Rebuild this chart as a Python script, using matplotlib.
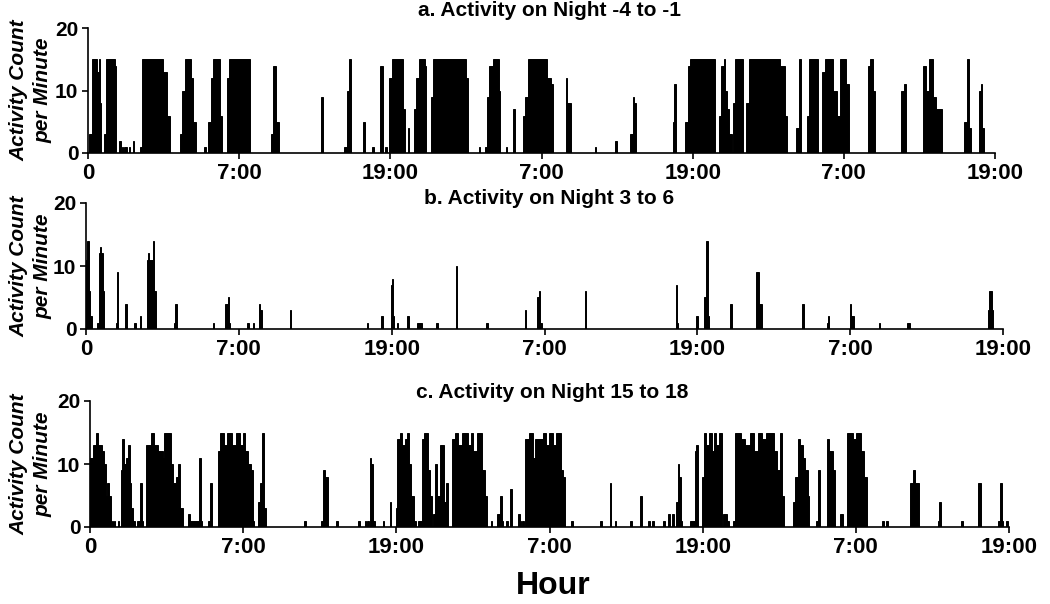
import matplotlib
matplotlib.use("Agg")
import matplotlib.pyplot as plt

plt.rcParams['font.family'] = ['Liberation Sans', 'DejaVu Sans']

# activity bouts: (start hour, end hour, count per minute), hour 0 = 19:00
night_a_bouts = [
    (0.10, 0.32, 3), (0.32, 0.71, 15), (0.71, 0.84, 13), (0.84, 0.98, 15), (0.98, 1.06, 8),
    (1.24, 1.42, 3), (1.42, 2.16, 15), (2.16, 2.24, 14), (2.50, 2.64, 2), (2.69, 2.77, 1),
    (2.87, 2.98, 1), (3.00, 3.09, 1), (3.27, 3.35, 1), (3.56, 3.69, 2), (4.09, 4.32, 1),
    (4.32, 5.99, 15), (5.99, 6.25, 13), (6.25, 6.51, 6), (7.30, 7.49, 3), (7.49, 7.70, 10),
    (7.70, 8.17, 15), (8.17, 8.36, 12), (8.36, 8.54, 5), (9.20, 9.33, 1), (9.55, 9.76, 5),
    (9.76, 9.94, 12), (9.94, 10.47, 15), (10.47, 10.60, 6), (11.00, 11.18, 12), (11.18, 12.84, 15),
    (14.56, 14.69, 3), (14.69, 14.95, 14), (14.95, 15.14, 5), (18.46, 18.62, 9), (20.36, 20.57, 1),
    (20.57, 20.75, 10), (20.75, 20.91, 15), (21.81, 21.99, 5), (22.52, 22.68, 1), (23.18, 23.39, 14),
    (23.60, 23.76, 1), (23.86, 24.16, 12), (24.16, 25.00, 15), (25.00, 25.14, 7), (25.40, 25.50, 4),
    (25.85, 26.06, 7), (26.06, 26.27, 12), (26.27, 26.72, 15), (26.72, 26.80, 14), (27.25, 27.38, 9),
    (27.38, 30.00, 15), (30.00, 30.15, 12), (31.00, 31.10, 1), (31.52, 31.65, 1), (31.65, 31.86, 9),
    (31.86, 32.12, 14), (32.12, 32.59, 15), (32.59, 32.70, 10), (33.15, 33.25, 1), (33.76, 33.92, 7),
    (34.50, 34.71, 6), (34.71, 34.89, 9), (34.89, 36.47, 15), (36.47, 36.74, 12), (36.74, 36.92, 11),
    (37.92, 38.05, 12), (38.05, 38.32, 8), (40.24, 40.35, 1), (41.83, 41.96, 2), (43.01, 43.28, 3),
    (43.28, 43.38, 9), (43.38, 43.52, 8), (46.40, 46.50, 5), (46.50, 46.70, 11), (47.42, 47.60, 5),
    (47.60, 47.81, 14), (47.81, 49.74, 15), (50.08, 50.21, 6), (50.21, 50.47, 14), (50.47, 50.60, 15),
    (50.60, 50.74, 10), (50.74, 50.87, 7), (50.87, 51.13, 3), (51.21, 51.39, 8), (51.39, 52.00, 15),
    (52.26, 52.45, 8), (52.45, 54.95, 15), (54.95, 55.35, 14), (55.35, 55.48, 6), (56.21, 56.47, 4),
    (56.47, 56.58, 15), (57.10, 57.26, 6), (57.26, 57.97, 15), (58.24, 58.50, 13), (58.50, 59.16, 15),
    (59.16, 59.47, 10), (59.47, 59.68, 6), (59.68, 60.21, 15), (60.21, 60.42, 11), (61.92, 62.11, 14),
    (62.11, 62.32, 15), (62.32, 62.45, 10), (64.55, 64.75, 10), (64.75, 64.95, 11), (66.26, 66.53, 14),
    (66.53, 66.79, 10), (66.79, 67.05, 15), (67.05, 67.32, 9), (67.32, 67.79, 7), (69.55, 69.74, 5),
    (69.74, 69.95, 15), (69.95, 70.08, 4), (70.74, 70.87, 10), (70.87, 71.00, 11), (71.00, 71.13, 4),
]

night_b_bouts = [
    (0.00, 0.08, 11), (0.08, 0.24, 14), (0.24, 0.35, 6), (0.35, 0.46, 2), (0.88, 0.99, 1),
    (1.02, 1.13, 12), (1.13, 1.21, 13), (1.21, 1.34, 12), (1.34, 1.42, 6), (2.36, 2.44, 1),
    (2.44, 2.55, 9), (3.08, 3.22, 4), (3.75, 3.89, 1), (4.21, 4.35, 2), (4.77, 4.88, 11),
    (4.88, 4.96, 12), (4.96, 5.23, 11), (5.23, 5.36, 14), (5.36, 5.50, 6), (6.89, 7.00, 1),
    (7.00, 7.11, 4), (9.98, 10.06, 1), (10.94, 11.13, 4), (11.13, 11.21, 5), (11.21, 11.34, 1),
    (12.66, 12.82, 1), (13.14, 13.22, 1), (13.60, 13.70, 4), (13.70, 13.81, 3), (16.04, 16.12, 3),
    (22.07, 22.18, 1), (23.20, 23.33, 2), (23.92, 24.00, 7), (24.00, 24.11, 8), (24.11, 24.22, 2),
    (24.41, 24.49, 1), (25.21, 25.35, 2), (26.01, 26.36, 1), (27.49, 27.62, 1), (29.04, 29.15, 10),
    (31.43, 31.57, 1), (34.45, 34.56, 3), (35.39, 35.53, 5), (35.53, 35.68, 6), (35.68, 35.79, 1),
    (39.16, 39.29, 6), (46.32, 46.40, 7), (46.40, 46.50, 1), (47.90, 48.03, 2), (48.56, 48.69, 5),
    (48.69, 48.82, 14), (48.82, 48.95, 2), (50.53, 50.74, 4), (52.64, 52.85, 9), (52.85, 53.11, 4),
    (56.20, 56.38, 4), (58.17, 58.25, 1), (58.25, 58.35, 2), (59.96, 60.09, 4), (60.09, 60.28, 2),
    (62.25, 62.38, 1), (64.44, 64.70, 1), (70.81, 70.89, 3), (70.89, 71.12, 6), (71.12, 71.20, 3),
]

night_c_bouts = [
    (0.00, 0.21, 11), (0.21, 0.47, 13), (0.47, 0.65, 15), (0.65, 0.91, 13), (0.91, 1.09, 12),
    (1.09, 1.24, 10), (1.24, 1.37, 5), (1.37, 1.50, 7), (1.50, 1.61, 5), (1.74, 1.81, 1),
    (1.89, 1.97, 1), (2.20, 2.28, 1), (2.41, 2.54, 9), (2.54, 2.64, 14), (2.64, 2.80, 10),
    (2.80, 2.98, 11), (2.98, 3.11, 13), (3.11, 3.24, 7), (3.24, 3.37, 3), (3.37, 3.50, 1),
    (3.68, 3.94, 1), (3.94, 4.07, 7), (4.07, 4.15, 1), (4.41, 4.80, 13), (4.80, 4.98, 15),
    (4.98, 5.31, 13), (5.31, 5.70, 12), (5.70, 5.83, 11), (5.83, 6.35, 15), (6.35, 6.53, 10),
    (6.53, 6.74, 7), (6.74, 6.87, 8), (6.87, 7.05, 10), (7.05, 7.26, 3), (7.67, 7.83, 2),
    (7.83, 8.55, 1), (8.55, 8.71, 11), (8.71, 8.81, 1), (9.28, 9.41, 1), (9.41, 9.54, 7),
    (10.06, 10.16, 12), (10.16, 10.50, 15), (10.50, 10.76, 13), (10.76, 11.15, 15), (11.15, 11.40, 13),
    (11.40, 11.79, 15), (11.79, 11.97, 13), (11.97, 12.18, 15), (12.18, 12.36, 12), (12.36, 12.60, 10),
    (12.60, 12.75, 9), (12.75, 12.86, 1), (13.17, 13.35, 4), (13.35, 13.48, 7), (13.48, 13.63, 15),
    (13.63, 13.79, 3), (16.80, 16.90, 1), (18.09, 18.27, 1), (18.27, 18.45, 9), (18.45, 18.61, 8),
    (19.31, 19.44, 1), (21.00, 21.12, 1), (21.51, 21.64, 1), (21.72, 21.83, 1), (21.93, 22.03, 11),
    (22.03, 22.19, 10), (22.19, 22.29, 1), (22.94, 23.07, 1), (23.48, 23.62, 4), (23.95, 24.05, 3),
    (24.05, 24.31, 14), (24.31, 24.47, 15), (24.47, 24.70, 13), (24.70, 24.83, 14), (24.83, 24.99, 15),
    (24.99, 25.14, 10), (25.14, 25.35, 5), (25.35, 25.51, 1), (25.66, 26.00, 1), (26.00, 26.13, 14),
    (26.13, 26.52, 15), (26.52, 26.65, 9), (26.65, 26.78, 5), (26.86, 27.04, 2), (27.04, 27.17, 10),
    (27.17, 27.43, 5), (27.43, 27.74, 13), (27.74, 27.90, 4), (27.90, 28.08, 7), (28.34, 28.60, 14),
    (28.60, 28.86, 15), (28.86, 29.12, 13), (29.12, 29.64, 15), (29.64, 29.82, 13), (29.82, 29.97, 15),
    (29.97, 30.34, 12), (30.34, 30.75, 15), (30.75, 30.93, 9), (30.93, 31.12, 5), (31.40, 31.53, 1),
    (31.89, 32.10, 2), (32.10, 32.26, 5), (32.26, 32.36, 1), (32.62, 32.78, 1), (32.88, 33.04, 6),
    (33.53, 33.71, 2), (33.71, 33.79, 1), (33.87, 33.97, 1), (34.05, 34.39, 14), (34.39, 34.70, 15),
    (34.70, 34.86, 11), (34.86, 35.48, 14), (35.48, 35.74, 15), (35.74, 35.95, 13), (35.95, 36.26, 15),
    (36.26, 36.52, 13), (36.52, 36.91, 15), (36.91, 37.04, 9), (37.04, 37.19, 8), (37.69, 37.82, 1),
    (39.95, 40.10, 1), (40.72, 40.85, 7), (41.14, 41.24, 1), (42.31, 42.44, 1), (43.09, 43.22, 5),
    (43.71, 43.84, 1), (44.05, 44.18, 1), (44.88, 45.04, 1), (45.30, 45.42, 2), (45.61, 45.76, 2),
    (45.94, 46.05, 4), (46.05, 46.18, 10), (46.18, 46.31, 8), (46.31, 46.39, 1), (47.01, 47.38, 1),
    (47.38, 47.48, 12), (47.48, 47.66, 13), (47.92, 48.10, 8), (48.10, 48.26, 15), (48.26, 48.52, 13),
    (48.52, 48.70, 15), (48.70, 48.88, 12), (48.88, 49.04, 15), (49.04, 49.30, 13), (49.30, 49.48, 15),
    (49.61, 49.87, 2), (49.92, 50.08, 1), (50.39, 50.52, 1), (50.52, 51.04, 15), (51.04, 51.30, 14),
    (51.30, 51.69, 13), (51.69, 52.00, 15), (52.00, 52.34, 12), (52.34, 52.67, 15), (52.67, 52.93, 14),
    (52.93, 53.56, 15), (53.56, 53.82, 12), (53.82, 54.03, 9), (54.03, 54.23, 15), (54.23, 54.34, 5),
    (55.06, 55.27, 4), (55.27, 55.48, 8), (55.48, 55.66, 14), (55.66, 55.84, 13), (55.84, 56.03, 11),
    (56.03, 56.23, 9), (56.23, 56.36, 5), (56.88, 57.04, 1), (57.04, 57.20, 9), (57.71, 57.92, 14),
    (57.92, 58.18, 12), (58.18, 58.36, 9), (58.75, 58.96, 2), (59.27, 59.74, 15), (59.74, 60.00, 14),
    (60.00, 60.39, 15), (60.39, 60.65, 12), (60.65, 60.91, 8), (62.08, 62.21, 1), (62.39, 62.52, 1),
    (64.28, 64.46, 7), (64.46, 64.67, 9), (64.67, 64.93, 7), (66.40, 66.49, 1), (66.49, 66.65, 4),
    (68.26, 68.36, 1), (69.55, 69.61, 1), (69.61, 69.81, 7), (71.17, 71.32, 1), (71.32, 71.48, 7),
    (71.48, 71.55, 1), (71.74, 71.89, 1),
]

titles = ["a. Activity on Night -4 to -1", "b. Activity on Night 3 to 6", "c. Activity on Night 15 to 18"]
hour_ticks = [0, 12, 24, 36, 48, 60, 72]
hour_labels = ["0", "7:00", "19:00", "7:00", "19:00", "7:00", "19:00"]
count_ticks = [0, 10, 20]

W, H = 1050, 604
fig = plt.figure(figsize=(W / 100, H / 100), dpi=100)

# axes boxes in pixels: left, right, top, bottom ; title centre x, y
boxes = [(88, 995, 28, 153), (86, 1003, 203, 329), (90, 1009, 401, 527)]
title_xy = [(549, 11), (549, 199), (552, 392)]

for bouts, title, (l, r, t, b), (tx, ty) in zip(
        [night_a_bouts, night_b_bouts, night_c_bouts], titles, boxes, title_xy):
    ax = fig.add_axes([l / W, 1 - b / H, (r - l) / W, (b - t) / H])
    starts = [s for s, e, c in bouts]
    widths = [e - s for s, e, c in bouts]
    counts = [c for s, e, c in bouts]
    ax.bar(starts, counts, width=widths, align='edge', color='black',
           edgecolor='black', linewidth=0.7)
    ax.set_xlim(0, 72)
    ax.set_ylim(0, 20)
    ax.set_xticks(hour_ticks)
    ax.set_xticklabels(hour_labels)
    ax.set_yticks(count_ticks)
    for side in ['top', 'right']:
        ax.spines[side].set_visible(False)
    for side in ['left', 'bottom']:
        ax.spines[side].set_linewidth(1.2)
    ax.tick_params(length=4, width=1.2, pad=3)
    ax.tick_params(axis='x', labelsize=16)
    ax.tick_params(axis='y', labelsize=15)
    for lab in ax.get_xticklabels() + ax.get_yticklabels():
        lab.set_fontweight('bold')

    fig.text(tx / W, 1 - ty / H, title, ha='center', va='center', fontsize=15, fontweight='bold')
    fig.text(31 / W, 1 - (t + b) / 2 / H, "Activity Count\nper Minute", rotation=90,
             ha='center', va='center', fontsize=15, fontweight='bold', style='italic', linespacing=1.3)

fig.text(553 / W, 1 - 586 / H, "Hour", ha='center', va='center', fontsize=23, fontweight='bold')

fig.savefig("out.png", dpi=100)
